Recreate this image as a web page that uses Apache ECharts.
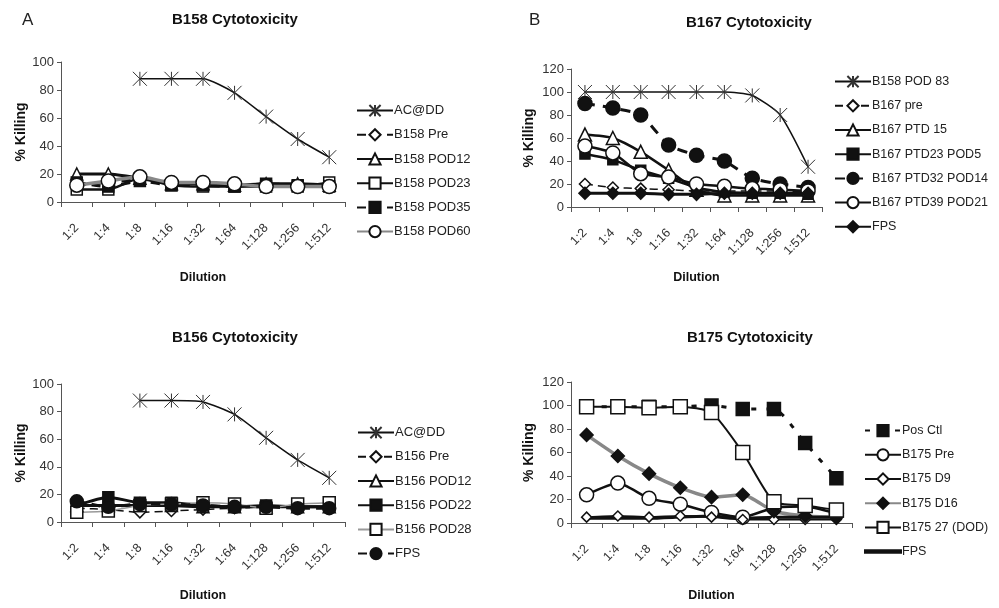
<!DOCTYPE html>
<html>
<head>
<meta charset="utf-8">
<script src="https://cdn.jsdelivr.net/npm/echarts@6/dist/echarts.min.js"></script>
<style>
html,body{margin:0;padding:0;background:#fff;}
.p{position:absolute;}
</style>
</head>
<body>
<div id="pa" class="p" style="left:0;top:0;width:500px;height:300px"></div>
<div id="pb" class="p" style="left:500px;top:0;width:499px;height:300px"></div>
<div id="pc" class="p" style="left:0;top:300px;width:500px;height:308px"></div>
<div id="pd" class="p" style="left:500px;top:300px;width:499px;height:308px"></div>
<script>
// ---- data ----
const dilutions = ['1:2','1:4','1:8','1:16','1:32','1:64','1:128','1:256','1:512'];

// Panel A: B158 Cytotoxicity
const a_acdd  = [null, null, 88, 88, 88, 78, 61, 45, 32];
const a_pre   = [12, 14, 16, 14, 13, 12, 12, 11, 11];
const a_pod12 = [20, 20, 17, 13, 13, 12, 13, 13, 12];
const a_pod23 = [9, 9, 17, 12, 11, 11, 11, 11, 14];
const a_pod35 = [14, 11, 15, 12, 12, 11, 13, 12, 11];
const a_pod60 = [12, 15, 18, 14, 14, 13, 11, 11, 11];

// Panel B: B167 Cytotoxicity
const b_pod83   = [100, 100, 100, 100, 100, 100, 97, 80, 35];
const b_pre     = [20, 17, 16, 15, 14, 14, 14, 14, 13];
const b_ptd15   = [63, 60, 48, 32, 15, 10, 10, 10, 10];
const b_ptd23   = [46, 41, 32, 25, 17, 13, 12, 12, 11];
const b_ptd32   = [90, 86, 80, 54, 45, 40, 25, 20, 17];
const b_ptd39   = [53, 47, 29, 26, 20, 18, 16, 15, 14];
const b_fps     = [12, 12, 12, 11, 11, 12, 12, 12, 12];

// Panel C: B156 Cytotoxicity
const c_acdd  = [null, null, 88, 88, 87, 78, 61, 45, 32];
const c_pre   = [10, 9, 7, 8, 9, 10, 11, 11, 11];
const c_pod12 = [12, 12, 12, 12, 11, 11, 11, 11, 11];
const c_pod22 = [12, 18, 14, 14, 12, 11, 12, 11, 11];
const c_pod28 = [7, 8, 12, 13, 14, 13, 10, 13, 14];
const c_fps   = [15, 11, 13, 13, 12, 11, 11, 10, 10];

// Panel D: B175 Cytotoxicity
const d_pos  = [99, 99, 99, 99, 100, 97, 97, 68, 38];
const d_pre  = [24, 34, 21, 16, 9, 5, 13, 14, 8];
const d_d9   = [5, 6, 5, 6, 5, 3, 3, 3, 3];
const d_d16  = [75, 57, 42, 30, 22, 24, 10, 6, 5];
const d_dod  = [99, 99, 98, 99, 94, 60, 18, 15, 11];
const d_fps  = [4, 4, 4, 5, 6, 4, 5, 5, 5];

// ---- styling helpers ----
const SANS = "'Liberation Sans',Arial,sans-serif";
const STAR = 'path://M0,0L20,22M20,0L0,22M10,0L10,22';
const LINE_ICON = 'path://M0,0H36V2.5H0Z';

function mk(name, data, o) {
  const sym = o.symbol || 'none';
  return {
    type: 'line', name: name, data: data,
    smooth: o.smooth === undefined ? 0.2 : o.smooth,
    symbol: sym, symbolSize: o.size || 12, showSymbol: sym !== 'none',
    lineStyle: { color: o.line || '#111', width: o.w || 2, type: o.type || 'solid' },
    itemStyle: { color: o.fill || '#fff', borderColor: o.border || '#111', borderWidth: o.bw === undefined ? 1.5 : o.bw },
    emphasis: { disabled: true },
    animation: false
  };
}

function panel(id, cfg) {
  const chart = echarts.init(document.getElementById(id), null, { renderer: 'canvas' });
  const legendData = cfg.series.map(function (s) {
    return s.symbol === 'none' ? { name: s.name, icon: LINE_ICON } : { name: s.name };
  });
  chart.setOption({
    animation: false,
    backgroundColor: '#fff',
    title: [
      { text: cfg.title, left: cfg.titleLeft, top: cfg.titleTop,
        textStyle: { fontFamily: SANS, fontWeight: 'bold', fontSize: 15, color: '#111' } },
      { text: cfg.letter || '', left: cfg.letterLeft || 0, top: 7,
        textStyle: { fontFamily: SANS, fontWeight: 'normal', fontSize: 17, color: '#222' } }
    ],
    grid: { left: cfg.grid[0], top: cfg.grid[1], width: cfg.grid[2], height: cfg.grid[3], containLabel: false },
    legend: {
      orient: 'vertical', left: cfg.legend[0], top: cfg.legend[1],
      itemWidth: 36, itemHeight: 14, itemGap: 11,
      data: legendData,
      textStyle: { fontFamily: SANS, fontSize: cfg.legendFont, color: '#222', padding: [0, 0, 0, -4] },
      selectedMode: false
    },
    xAxis: {
      type: 'category', data: dilutions, boundaryGap: true,
      name: 'Dilution', nameLocation: 'middle', nameGap: cfg.xNameGap, nameMoveOverlap: false,
      nameTextStyle: { fontFamily: SANS, fontWeight: 'bold', fontSize: 12.5, color: '#111' },
      axisLine: { show: true, lineStyle: { color: '#555', width: 1 } },
      axisTick: { show: true, length: 5, alignWithLabel: false, lineStyle: { color: '#555' } },
      axisLabel: { rotate: 45, margin: 24, fontFamily: SANS, fontSize: 12.5, color: '#333', interval: 0 },
      splitLine: { show: false }
    },
    yAxis: {
      type: 'value', min: 0, max: cfg.yMax, interval: 20,
      name: '% Killing', nameLocation: 'middle', nameGap: cfg.yNameGap, nameRotate: 90, nameMoveOverlap: false,
      nameTextStyle: { fontFamily: SANS, fontWeight: 'bold', fontSize: 14, color: '#111' },
      axisLine: { show: true, lineStyle: { color: '#555', width: 1 } },
      axisTick: { show: true, length: 4, lineStyle: { color: '#555' } },
      axisLabel: { margin: 7, fontFamily: SANS, fontSize: 13, color: '#333' },
      splitLine: { show: false }
    },
    series: cfg.series
  });
}

panel('pa', {
  title: 'B158 Cytotoxicity', titleLeft: 167, titleTop: 7, letter: 'A', letterLeft: 17,
  grid: [61, 62, 284, 140], yMax: 100, legend: [351, 99], legendFont: 13, xNameGap: 69, yNameGap: 33,
  series: [
    mk('AC@DD', a_acdd, { symbol: STAR, size: 14, w: 1.5, fill: 'rgba(0,0,0,0)', border: '#333', bw: 1 }),
    mk('B158 Pre', a_pre, { symbol: 'diamond', size: 11, w: 3, type: [9, 6] }),
    mk('B158 POD12', a_pod12, { symbol: 'triangle', size: 12, w: 3 }),
    mk('B158 POD23', a_pod23, { symbol: 'rect', size: 11, w: 2.5 }),
    mk('B158 POD35', a_pod35, { symbol: 'rect', size: 11, w: 3, type: [9, 6], fill: '#111' }),
    mk('B158 POD60', a_pod60, { symbol: 'circle', size: 14, w: 3.5, line: '#888' })
  ]
});

panel('pb', {
  title: 'B167 Cytotoxicity', titleLeft: 181, titleTop: 10, letter: 'B', letterLeft: 24,
  grid: [71, 69, 251, 138], yMax: 120, legend: [329, 70], legendFont: 12.5, xNameGap: 64, yNameGap: 35,
  series: [
    mk('B158 POD 83', b_pod83, { symbol: STAR, size: 14, w: 1.5, fill: 'rgba(0,0,0,0)', border: '#333', bw: 1 }),
    mk('B167 pre', b_pre, { symbol: 'diamond', size: 11, w: 1.5, type: [8, 5] }),
    mk('B167 PTD 15', b_ptd15, { symbol: 'triangle', size: 13, w: 2.5 }),
    mk('B167 PTD23 POD5', b_ptd23, { symbol: 'rect', size: 10, w: 2.5, fill: '#111' }),
    mk('B167 PTD32 POD14', b_ptd32, { symbol: 'circle', size: 14, w: 3, type: [10, 8], fill: '#111' }),
    mk('B167 PTD39 POD21', b_ptd39, { symbol: 'circle', size: 14, w: 2.5 }),
    mk('FPS', b_fps, { symbol: 'diamond', size: 12, w: 3, fill: '#111' })
  ]
});

panel('pc', {
  title: 'B156 Cytotoxicity', titleLeft: 167, titleTop: 25,
  grid: [61, 84, 284, 138], yMax: 100, legend: [352, 121], legendFont: 13, xNameGap: 67, yNameGap: 33,
  series: [
    mk('AC@DD', c_acdd, { symbol: STAR, size: 14, w: 1.5, fill: 'rgba(0,0,0,0)', border: '#333', bw: 1 }),
    mk('B156 Pre', c_pre, { symbol: 'diamond', size: 11, w: 1.5, type: [8, 5] }),
    mk('B156 POD12', c_pod12, { symbol: 'triangle', size: 12, w: 3 }),
    mk('B156 POD22', c_pod22, { symbol: 'rect', size: 11, w: 3, fill: '#111' }),
    mk('B156 POD28', c_pod28, { symbol: 'rect', size: 12, w: 1.5, line: '#999' }),
    mk('FPS', c_fps, { symbol: 'circle', size: 13, w: 3, type: [9, 6], fill: '#111' })
  ]
});

panel('pd', {
  title: 'B175 Cytotoxicity', titleLeft: 182, titleTop: 25,
  grid: [71, 82, 281, 141], yMax: 120, legend: [359, 119], legendFont: 12.5, xNameGap: 66, yNameGap: 35,
  series: [
    mk('Pos Ctl', d_pos, { symbol: 'rect', size: 13, w: 3, type: [5, 10], fill: '#111' }),
    mk('B175 Pre', d_pre, { symbol: 'circle', size: 14, w: 2.5 }),
    mk('B175 D9', d_d9, { symbol: 'diamond', size: 10, w: 2 }),
    mk('B175 D16', d_d16, { symbol: 'diamond', size: 13, w: 3.5, line: '#888', fill: '#111' }),
    mk('B175 27 (DOD)', d_dod, { symbol: 'rect', size: 14, w: 2 }),
    mk('FPS', d_fps, { symbol: 'none', w: 3, fill: '#111' })
  ]
});
</script>
</body>
</html>
